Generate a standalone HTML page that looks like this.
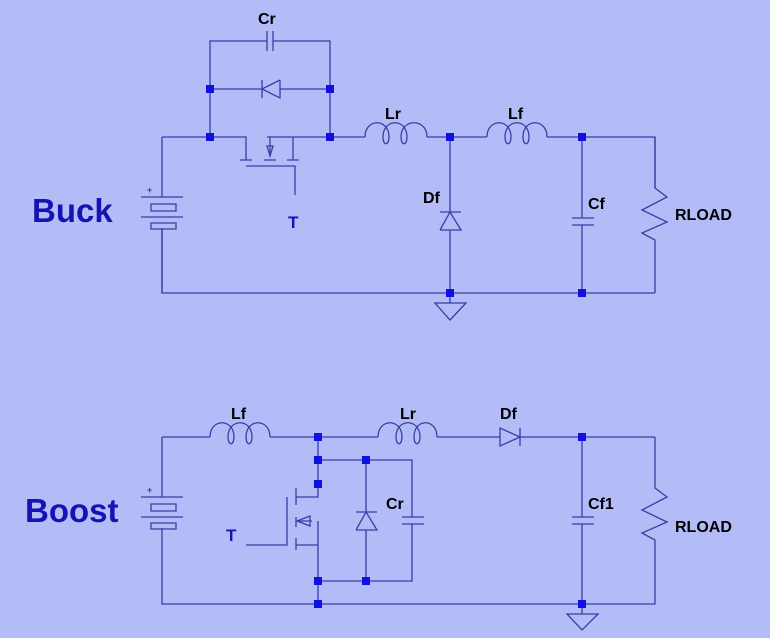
<!DOCTYPE html>
<html><head><meta charset="utf-8"><style>
html,body{margin:0;padding:0;background:#b4bcf8;}
svg{display:block}
text{font-family:"Liberation Sans",sans-serif;font-weight:bold}
</style></head><body>
<svg width="770" height="638" viewBox="0 0 770 638" xmlns="http://www.w3.org/2000/svg">
<rect width="770" height="638" fill="#b4bcf8"/>
<g stroke="#3c3ca8" stroke-width="1.3" fill="none">
<!-- BUCK -->
<path d="M162 137V197M162 228V293H655M162 137H246V160M240 160H252M293 137V160M287 160H299M267 137H365M427 137H487M547 137H655V188M653 188"/>
<path d="M264 160H276M270 137V156"/>
<path d="M267 146L273 146L270 156Z"/>
<path d="M246 166H295V195"/>
<path d="M141 197H183M151 204H176V211H151ZM141 217H183M151 223H176V229H151Z"/>
<path d="M162 229V293"/>
<path d="M210 137V41H267M273 41H330V137M267 31V51M273 31V51M210 89H262M280 89H330M262 80V98M280 80V98L262 89L280 80"/>
<path d="M365 137C365 118 389 118 389 137C389 146 383 146 383 137C383 118 407 118 407 137C407 146 401 146 401 137C401 118 427 118 427 137"/>
<path d="M487 137C487 118 511 118 511 137C511 146 505 146 505 137C505 118 529 118 529 137C529 146 523 146 523 137C523 118 547 118 547 137"/>
<path d="M450 137V212M450 230V293M440 212H461M440 230H461L450 212L440 230"/>
<path d="M450 293V303M435 303H466L450 320Z"/>
<path d="M582 137V218M582 225V293M572 218H594M572 225H594"/>
<path d="M655 137V188L667 197L642 210L667 222L642 233L655 240V293"/>
<!-- BOOST -->
<path d="M162 437V497M162 528V604H655V588M655 437V488L667 497L642 510L667 522L642 533L655 540V604"/>
<path d="M141 497H183M151 504H176V511H151ZM141 517H183M151 523H176V529H151Z"/>
<path d="M162 437H210M270 437H378M437 437H500M520 437H655"/>
<path d="M210 437C210 418 234 418 234 437C234 446 228 446 228 437C228 418 252 418 252 437C252 446 246 446 246 437C246 418 270 418 270 437"/>
<path d="M378 437C378 418 402 418 402 437C402 446 396 446 396 437C396 418 420 418 420 437C420 446 414 446 414 437C414 418 437 418 437 437"/>
<path d="M500 428V446L520 437ZM520 428V446"/>
<path d="M318 437V497H296M296 488V505M296 517V527M296 538V550M287 497V545H246M296 545H318M318 521V604M297 521H312"/>
<path d="M297 521L310 516V526Z"/>
<path d="M318 460H412V517M412 524V581H318M402 517H424M402 524H424M366 460V512M366 530V581M356 512H377M356 530H377L366 512L356 530"/>
<path d="M582 437V517M582 524V604M572 517H594M572 524H594"/>
<path d="M582 604V614M567 614H598L582 630Z"/>
</g>
<g fill="#1010e0">
<rect x="206" y="85" width="8" height="8"/><rect x="326" y="85" width="8" height="8"/>
<rect x="206" y="133" width="8" height="8"/><rect x="326" y="133" width="8" height="8"/>
<rect x="446" y="133" width="8" height="8"/><rect x="578" y="133" width="8" height="8"/>
<rect x="446" y="289" width="8" height="8"/><rect x="578" y="289" width="8" height="8"/>
<rect x="314" y="433" width="8" height="8"/><rect x="314" y="456" width="8" height="8"/>
<rect x="314" y="480" width="8" height="8"/><rect x="362" y="456" width="8" height="8"/>
<rect x="314" y="577" width="8" height="8"/><rect x="362" y="577" width="8" height="8"/>
<rect x="314" y="600" width="8" height="8"/><rect x="578" y="433" width="8" height="8"/>
<rect x="578" y="600" width="8" height="8"/>
</g>
<g fill="#000" font-size="16">
<text x="258" y="24">Cr</text>
<text x="385" y="119">Lr</text>
<text x="508" y="119">Lf</text>
<text x="423" y="203">Df</text>
<text x="588" y="209">Cf</text>
<text x="675" y="220">RLOAD</text>
<text x="231" y="419">Lf</text>
<text x="400" y="419">Lr</text>
<text x="500" y="419">Df</text>
<text x="386" y="509">Cr</text>
<text x="588" y="509">Cf1</text>
<text x="675" y="532">RLOAD</text>
</g>
<g fill="#1414b4">
<text x="288" y="228" font-size="17">T</text>
<text x="226" y="541" font-size="17">T</text>
<text x="32" y="222" font-size="33">Buck</text>
<text x="25" y="522" font-size="33">Boost</text>
</g>
<text x="147" y="193" font-size="9" font-weight="normal" fill="#3c3ca8">+</text>
<text x="147" y="493" font-size="9" font-weight="normal" fill="#3c3ca8">+</text>
</svg>
</body></html>
